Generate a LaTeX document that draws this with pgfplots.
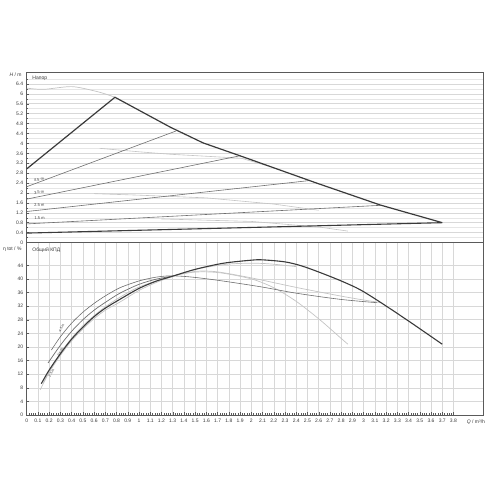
\documentclass[border=0pt]{standalone}
\usepackage{fontspec}
\setmainfont{Liberation Sans}
\usepackage{pgfplots}
\pgfplotsset{compat=1.18}
\definecolor{dk}{HTML}{3A3A3A}
\definecolor{md}{HTML}{6E6E6E}
\definecolor{lt}{HTML}{C4C4C4}
\definecolor{gr}{HTML}{D8D8D8}
\definecolor{gl}{HTML}{E6E6E6}
\definecolor{fr}{HTML}{5A5A5A}
\pgfplotsset{
  pump/.style={
    scale only axis, width=456.3pt,
    xmin=0, xmax=4.063,
    axis line style={draw=fr, line width=0.6pt},
    tick style={draw=fr, line width=0.4pt},
    major tick length=2.5pt, minor tick length=1.5pt,
    tick align=inside,
    xtick pos=bottom, ytick pos=left,
    font=\fontsize{5}{6}\selectfont,
    ticklabel style={font=\fontsize{5}{6}\selectfont, text=dk},
    /pgf/number format/assume math mode=true,
    /pgf/number format/.cd, fixed, precision=1, /tikz/.cd,
    grid style={draw=gr, line width=0.5pt},
    minor grid style={draw=gl, line width=0.4pt},
    clip mode=individual,
  }
}
\begin{document}
\begin{tikzpicture}
\useasboundingbox (0,0) rectangle (500pt,500pt);
% upper diagram: head
\begin{axis}[pump, at={(26.7pt,257.5pt)}, anchor=south west,
  height=170.5pt, ymin=0, ymax=6.88,
  xtick=\empty,
  ytick={0,0.4,0.8,1.2,1.6,2,2.4,2.8,3.2,3.6,4,4.4,4.8,5.2,5.6,6,6.4},
  minor ytick={0.2,0.6,1.0,1.4,1.8,2.2,2.6,3.0,3.4,3.8,4.2,4.6,5.0,5.4,5.8,6.2,6.6},
  ymajorgrids, yminorgrids]
% speed curve (max)
\addplot[lt, line width=0.7pt, smooth] coordinates {
(0,6.23) (0.15,6.18) (0.4,6.29) (0.6,6.12) (0.71,5.98) (0.786,5.86)};
% pump curves
\addplot[lt, line width=0.6pt] coordinates {
(0.65,3.80) (1.0,3.66) (1.28,3.56) (1.6,3.48) (1.91,3.40) (2.17,3.06)};
\addplot[lt, line width=0.6pt] coordinates {
(0.6,1.97) (1.0,1.91) (1.6,1.80) (2.2,1.55) (2.6,1.30)};
\addplot[lt, line width=0.6pt] coordinates {
(1.2,0.95) (2.0,0.85) (2.61,0.62) (2.86,0.46)};
% dp-v lines
\addplot[md, line width=0.6pt] coordinates {(0,2.25) (1.33,4.50)};
\addplot[md, line width=0.6pt] coordinates {(0,1.75) (1.90,3.50)};
\addplot[md, line width=0.6pt] coordinates {(0,1.25) (2.52,2.50)};
\addplot[md, line width=0.6pt] coordinates {(0,0.75) (3.15,1.50)};
% min curve
\addplot[dk, line width=1.1pt] coordinates {(0,0.38) (3.70,0.80)};
% max envelope
\addplot[dk, line width=1.2pt] coordinates {
(0,2.97) (0.786,5.86) (1.28,4.65) (1.57,4.02) (1.93,3.45) (2.58,2.40) (3.15,1.51) (3.70,0.80)};
\node[anchor=north west, font=\fontsize{5}{6}\selectfont, text=dk] at (axis cs:0.02,6.85) {Напор};
\node[anchor=south west, font=\fontsize{4}{5}\selectfont, text=dk, rotate=8] at (axis cs:0.04,2.3) {4.5 m};
\node[anchor=south west, font=\fontsize{4}{5}\selectfont, text=dk, rotate=6] at (axis cs:0.04,1.79) {3.5 m};
\node[anchor=south west, font=\fontsize{4}{5}\selectfont, text=dk, rotate=4] at (axis cs:0.04,1.28) {2.5 m};
\node[anchor=south west, font=\fontsize{4}{5}\selectfont, text=dk, rotate=2] at (axis cs:0.04,0.77) {1.5 m};
\end{axis}
\node[anchor=east, font=\fontsize{5}{6}\selectfont, text=dk] at (25pt,425pt) {\textit{H} / m};
% lower diagram: efficiency
\begin{axis}[pump, at={(26.7pt,85pt)}, anchor=south west,
  height=172.5pt, ymin=0, ymax=50.7,
  xtick={0,0.1,0.2,0.3,0.4,0.5,0.6,0.7,0.8,0.9,1,1.1,1.2,1.3,1.4,1.5,1.6,1.7,1.8,1.9,2,2.1,2.2,2.3,2.4,2.5,2.6,2.7,2.8,2.9,3,3.1,3.2,3.3,3.4,3.5,3.6,3.7,3.8},
  minor x tick num=4,
  ytick={0,4,8,12,16,20,24,28,32,36,40,44},
  xmajorgrids, ymajorgrids,
  xticklabel style={yshift=-0.5pt}]
\addplot[lt, line width=0.7pt, smooth] coordinates {
(0.12,7.4) (0.2,12.5) (0.3,17.5) (0.4,21.8) (0.5,25.3) (0.6,28.3) (0.7,30.8) (0.83,33.2)
(1.0,36.6) (1.15,38.9) (1.28,40.5) (1.5,42.8) (1.78,44.3) (2.0,44.6) (2.17,44.4) (2.4,43.6)};
\addplot[lt, line width=0.7pt, smooth] coordinates {
(0.15,9.5) (0.2,12.8) (0.3,18.2) (0.4,22.6) (0.5,26.2) (0.6,29.2) (0.7,31.8) (0.83,34.6)
(1.0,37.6) (1.28,40.7) (1.5,42.0) (1.72,41.8) (2.0,40.0) (2.2,37.4) (2.4,33.4) (2.61,28.0) (2.79,22.8) (2.86,20.8)};
\addplot[lt, line width=0.7pt, smooth] coordinates {
(1.28,40.7) (1.5,42.2) (1.69,42.1) (2.0,40.3) (2.4,37.5) (2.79,35.0) (3.0,33.8) (3.16,33.0)};
\addplot[md, line width=0.7pt, smooth] coordinates {
(0.19,15.3) (0.3,20.5) (0.4,24.6) (0.5,28.0) (0.6,30.8) (0.7,33.1) (0.83,35.8)
(1.0,38.4) (1.15,39.9) (1.28,40.7)};
\addplot[md, line width=0.6pt, smooth] coordinates {
(0.22,19.1) (0.3,23.0) (0.4,27.0) (0.5,30.2) (0.6,32.8) (0.7,35.0) (0.83,37.4)
(1.0,39.4) (1.15,40.5) (1.28,40.9) (1.45,40.6) (1.7,39.6) (2.08,37.7) (2.4,35.8) (2.79,34.0) (3.12,33.0)};
\addplot[dk, line width=1.1pt, smooth] coordinates {
(0.13,9.2) (0.2,13.2) (0.3,18.0) (0.4,22.3) (0.5,25.8) (0.6,28.9) (0.7,31.4) (0.83,34.0)
(1.0,37.2) (1.15,39.3) (1.28,40.6) (1.5,42.8) (1.75,44.6) (2.0,45.5) (2.1,45.6) (2.3,45.0)
(2.45,43.8) (2.61,41.9) (2.8,39.4) (2.97,36.8) (3.16,32.9) (3.41,27.4) (3.70,20.8)};
\node[anchor=north west, font=\fontsize{5}{6}\selectfont, text=dk] at (axis cs:0.02,50.3) {Общий КПД};
\node[font=\fontsize{3.5}{4}\selectfont, text=dk, rotate=62] at (axis cs:0.31,25.6) {4.5 m};
\node[font=\fontsize{3.5}{4}\selectfont, text=dk, rotate=62] at (axis cs:0.30,18.4) {3.5 m};
\node[font=\fontsize{3.5}{4}\selectfont, text=dk, rotate=62] at (axis cs:0.22,12.4) {2.5 m};
\node[font=\fontsize{5}{6}\selectfont, text=dk] at (axis cs:4.0,0) [yshift=-7pt] {\textit{Q} / m³/h};
\end{axis}
\node[anchor=east, font=\fontsize{5}{6}\selectfont, text=dk] at (25pt,251pt) {η tot / \%};
\end{tikzpicture}
\end{document}
